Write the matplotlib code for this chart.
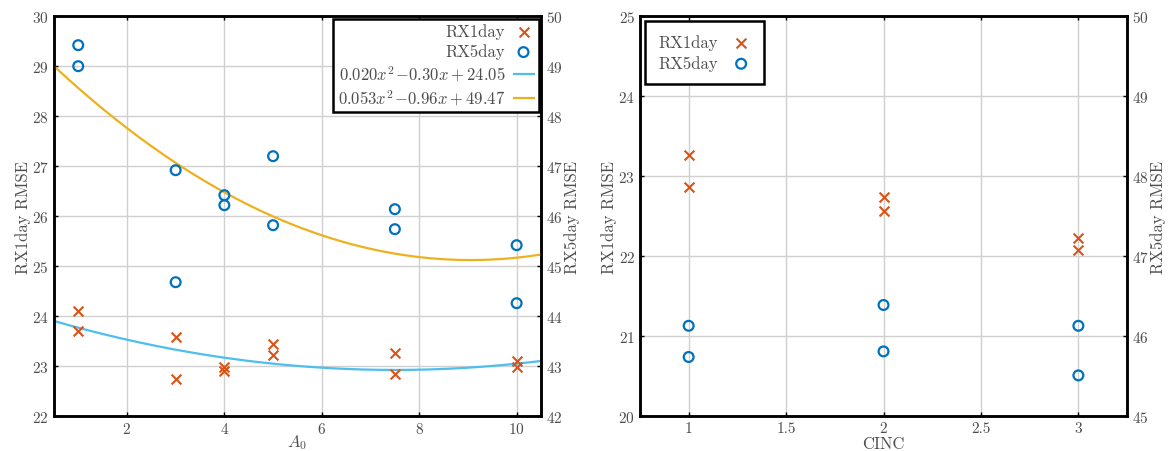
import numpy as np
import matplotlib
matplotlib.use("Agg")
import matplotlib.pyplot as plt

plt.rcParams['font.family'] = 'serif'
plt.rcParams['font.serif'] = ['cmr10']
plt.rcParams['mathtext.fontset'] = 'cm'
plt.rcParams['axes.formatter.use_mathtext'] = True
plt.rcParams['font.size'] = 11

# left panel data (A0)
a0_x1 = [1, 1, 3, 3, 4, 4, 5, 5, 7.5, 7.5, 10, 10]
rx1_a0 = [24.1, 23.7, 23.58, 22.74, 22.98, 22.9, 23.44, 23.22, 23.26, 22.85, 23.1, 22.98]
rx5_a0 = [49.42, 49.0, 46.92, 44.68, 46.42, 46.22, 47.2, 45.82, 46.14, 45.74, 45.42, 44.26]
fit1 = [0.020, -0.30, 24.05]
fit5 = [0.053, -0.96, 49.47]
fit1_label = r'$0.020x^2\!-\!0.30x+24.05$'
fit5_label = r'$0.053x^2\!-\!0.96x+49.47$'

# right panel data (CINC)
cinc_x = [1, 1, 2, 2, 3, 3]
rx1_cinc = [23.26, 22.87, 22.74, 22.57, 22.23, 22.08]
rx5_cinc = [46.13, 45.74, 46.39, 45.81, 46.13, 45.51]

c_red = '#D95319'
c_blue = '#0072BD'
c_lblue = '#4DBEEE'
c_yel = '#EDB120'
tcol = '#4d4d4d'

fig = plt.figure(figsize=(11.71, 4.52), dpi=100)


def style(ax, twin):
    for a in (ax, twin):
        for s in a.spines.values():
            s.set_linewidth(1.8)
            s.set_color('black')
        a.tick_params(direction='in', length=3, width=1, labelcolor=tcol, labelsize=11)
    ax.tick_params(top=True)
    ax.grid(True, color='#d0d0d0', linewidth=1)
    ax.set_axisbelow(True)


# ---- left ----
ax1 = fig.add_axes([0.046, 0.077, 0.416, 0.885])
ax1b = ax1.twinx()
style(ax1, ax1b)
h1 = ax1.scatter(a0_x1, rx1_a0, marker='x', s=50, color=c_red, linewidths=1.5, zorder=3)
h2 = ax1b.scatter(a0_x1, rx5_a0, marker='o', s=50, facecolors='none', edgecolors=c_blue,
                  linewidths=1.6, zorder=3)
xx = np.linspace(0.5, 10.5, 200)
l1, = ax1.plot(xx, np.polyval(fit1, xx), color=c_lblue, lw=1.6)
l2, = ax1b.plot(xx, np.polyval(fit5, xx), color=c_yel, lw=1.6)
ax1.set_xlim(0.5, 10.5)
ax1.set_ylim(22, 30)
ax1b.set_ylim(42, 50)
ax1.set_xticks([2, 4, 6, 8, 10])
ax1.set_yticks(range(22, 31))
ax1b.set_yticks(range(42, 51))
ax1.set_xlabel(r'$A_0$', color=tcol, fontsize=12, labelpad=-3)
ax1.set_ylabel('RX1day RMSE', color=tcol, fontsize=12, labelpad=1)
ax1b.set_ylabel('RX5day RMSE', color=tcol, fontsize=12, labelpad=1)
leg = ax1b.legend([h1, h2, l1, l2], ['RX1day', 'RX5day', fit1_label, fit5_label],
                  loc='upper right', markerfirst=False, fancybox=False, framealpha=1,
                  edgecolor='black', fontsize=12, handlelength=1.2, borderaxespad=0.15,
                  labelspacing=0.25, handletextpad=0.5, borderpad=0.3)
leg.get_frame().set_linewidth(1.8)
for t in leg.get_texts():
    t.set_color(tcol)
    t.set_ha('right')
leg._legend_box.align = 'right'

# ---- right ----
ax2 = fig.add_axes([0.5465, 0.077, 0.416, 0.885])
ax2b = ax2.twinx()
style(ax2, ax2b)
g1 = ax2.scatter(cinc_x, rx1_cinc, marker='x', s=50, color=c_red, linewidths=1.5, zorder=3)
g2 = ax2b.scatter(cinc_x, rx5_cinc, marker='o', s=50, facecolors='none', edgecolors=c_blue,
                  linewidths=1.6, zorder=3)
ax2.set_xlim(0.75, 3.25)
ax2.set_ylim(20, 25)
ax2b.set_ylim(45, 50)
ax2.set_xticks([1, 1.5, 2, 2.5, 3])
ax2.set_xticklabels(['1', '1.5', '2', '2.5', '3'])
ax2.set_yticks(range(20, 26))
ax2b.set_yticks(range(45, 51))
ax2.set_xlabel('CINC', color=tcol, fontsize=12, labelpad=0.5)
ax2.set_ylabel('RX1day RMSE', color=tcol, fontsize=12, labelpad=1)
ax2b.set_ylabel('RX5day RMSE', color=tcol, fontsize=12, labelpad=1)
leg2 = ax2b.legend([g1, g2], ['RX1day', 'RX5day'], loc='upper left', markerfirst=False,
                   fancybox=False, framealpha=1, edgecolor='black', fontsize=12,
                   handlelength=1.2, borderaxespad=0.3, borderpad=0.8, labelspacing=0.3,
                   handletextpad=0.8)
leg2.get_frame().set_linewidth(1.8)
for t in leg2.get_texts():
    t.set_color(tcol)

fig.savefig('out.png', dpi=100)
